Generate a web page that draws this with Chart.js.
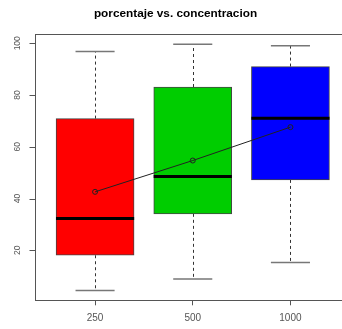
<!DOCTYPE html>
<html>
<head>
<meta charset="utf-8">
<script src="https://cdn.jsdelivr.net/npm/chart.js@4/dist/chart.umd.min.js"></script>
<style>
  html, body { margin: 0; padding: 0; background: #fff; overflow: hidden; }
  #c { display: block; }
</style>
</head>
<body>
<canvas id="c" width="360" height="329" style="width:360px;height:329px"></canvas>
<script>
// ── Data ───────────────────────────────────────────────────────────────────
const groups       = ["250", "500", "1000"];
const lowerWhisker = [4.5, 8.9, 15.3];
const q1           = [18.1, 34.1, 47.2];
const median       = [32.3, 48.5, 71.0];
const q3           = [70.9, 83.1, 91.0];
const upperWhisker = [96.8, 99.6, 99.0];
const means        = [42.6, 54.7, 67.6];
const boxColors    = ["#ff0000", "#00cd00", "#0000ff"];
const yTicks       = [20, 40, 60, 80, 100];

// R-style 4% range extension
const lo = Math.min(...lowerWhisker);
const hi = Math.max(...upperWhisker);
const pad = (hi - lo) * 0.04;

const axisGray = "#555";

// ── Box extras: whiskers, caps, medians, frame, y axis ─────────────────────
const boxExtras = {
  id: "boxExtras",
  beforeDatasetsDraw(chart) {
    const { ctx } = chart;
    const xs = chart.scales.x, ys = chart.scales.y;
    ctx.save();
    groups.forEach((g, i) => {
      const x = Math.round(xs.getPixelForValue(i + 1)) + 0.5;
      ctx.strokeStyle = "#333";
      ctx.lineWidth = 1;
      ctx.setLineDash([3, 3]);
      ctx.beginPath();
      ctx.moveTo(x, ys.getPixelForValue(q3[i]));
      ctx.lineTo(x, ys.getPixelForValue(upperWhisker[i]));
      ctx.moveTo(x, ys.getPixelForValue(q1[i]));
      ctx.lineTo(x, ys.getPixelForValue(lowerWhisker[i]));
      ctx.stroke();
      ctx.setLineDash([]);
      ctx.strokeStyle = "#777";
      ctx.lineWidth = 1.5;
      const cl = xs.getPixelForValue(i + 1 - 0.2), cr = xs.getPixelForValue(i + 1 + 0.2);
      ctx.beginPath();
      ctx.moveTo(cl, ys.getPixelForValue(upperWhisker[i]));
      ctx.lineTo(cr, ys.getPixelForValue(upperWhisker[i]));
      ctx.moveTo(cl, ys.getPixelForValue(lowerWhisker[i]));
      ctx.lineTo(cr, ys.getPixelForValue(lowerWhisker[i]));
      ctx.stroke();
    });
    ctx.restore();
  },
  afterDatasetDraw(chart, args) {
    if (args.index !== 0) return;
    const { ctx } = chart;
    const xs = chart.scales.x, ys = chart.scales.y;
    ctx.save();
    ctx.strokeStyle = "#000";
    ctx.lineWidth = 3;
    groups.forEach((g, i) => {
      const y = ys.getPixelForValue(median[i]);
      ctx.beginPath();
      ctx.moveTo(xs.getPixelForValue(i + 1 - 0.4), y);
      ctx.lineTo(xs.getPixelForValue(i + 1 + 0.4), y);
      ctx.stroke();
    });
    ctx.restore();
  },
  afterDraw(chart) {
    const { ctx, chartArea: a } = chart;
    const ys = chart.scales.y;
    ctx.save();
    ctx.strokeStyle = axisGray;
    ctx.lineWidth = 1;
    const left = Math.round(a.left) + 0.5;
    ctx.strokeRect(left, Math.round(a.top) + 0.5,
                   Math.round(a.right - a.left), Math.round(a.bottom - a.top));
    ctx.beginPath();
    yTicks.forEach((v) => {
      const y = Math.round(ys.getPixelForValue(v)) + 0.5;
      ctx.moveTo(left - 6, y);
      ctx.lineTo(left, y);
    });
    ctx.stroke();
    ctx.fillStyle = axisGray;
    ctx.font = "8.5px 'Liberation Sans', Arial, sans-serif";
    ctx.textAlign = "center";
    ctx.textBaseline = "middle";
    yTicks.forEach((v) => {
      ctx.save();
      ctx.translate(18, ys.getPixelForValue(v));
      ctx.rotate(-Math.PI / 2);
      ctx.fillText(String(v), 0, 0);
      ctx.restore();
    });
    ctx.restore();
  },
};

// ── Chart ──────────────────────────────────────────────────────────────────
const ctx = document.getElementById("c").getContext("2d");
new Chart(ctx, {
  data: {
    datasets: [
      {
        type: "bar",
        data: groups.map((g, i) => ({ x: i + 1, y: [q1[i], q3[i]] })),
        backgroundColor: boxColors,
        borderColor: "#444",
        borderWidth: 1,
        borderSkipped: false,
        barThickness: 78,
        order: 1,
      },
      {
        type: "line",
        data: groups.map((g, i) => ({ x: i + 1, y: means[i] })),
        borderColor: "#222",
        borderWidth: 1,
        pointRadius: 2.5,
        pointBorderWidth: 1,
        pointBackgroundColor: "rgba(0,0,0,0)",
        pointBorderColor: "#222",
        tension: 0,
        order: 0,
      },
    ],
  },
  options: {
    responsive: false,
    animation: false,
    layout: { padding: { left: 0, right: 9, top: 0, bottom: 0 } },
    plugins: {
      legend: { display: false },
      tooltip: { enabled: false },
      title: {
        display: true,
        text: "porcentaje vs. concentracion",
        color: "#000",
        font: { family: "'Liberation Sans', Arial, sans-serif", size: 11.8, weight: "bold" },
        padding: { top: 7, bottom: 13.3 },
      },
    },
    scales: {
      x: {
        type: "linear",
        offset: false,
        min: 0.38,
        max: 3.62,
        afterBuildTicks: (s) => { s.ticks = groups.map((g, i) => ({ value: i + 1 })); },
        afterFit: (s) => { s.height = 28.7; },
        ticks: {
          callback: (v) => groups[v - 1],
          color: axisGray,
          font: { family: "'Liberation Sans', Arial, sans-serif", size: 10 },
          padding: 7,
          maxRotation: 0,
          autoSkip: false,
        },
        grid: { drawOnChartArea: false, offset: false, tickLength: 5, color: axisGray },
        border: { display: false },
      },
      y: {
        min: lo - pad,
        max: hi + pad,
        afterBuildTicks: (s) => { s.ticks = yTicks.map((v) => ({ value: v })); },
        afterFit: (s) => { s.width = 34.5; },
        ticks: { display: false },
        grid: { display: false },
        border: { display: false },
      },
    },
  },
  plugins: [boxExtras],
});
</script>
</body>
</html>
